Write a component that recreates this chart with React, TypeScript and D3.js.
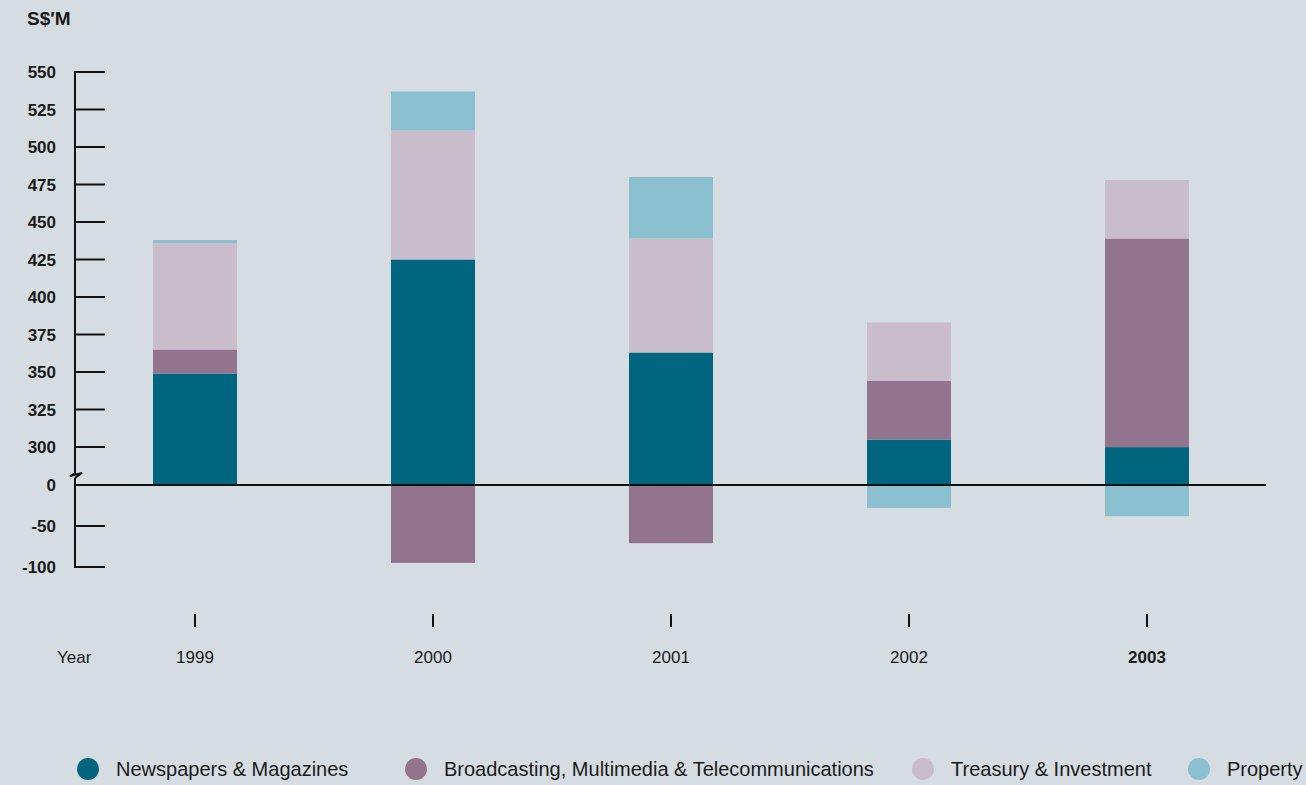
import React, { useRef, useEffect } from "react";
import * as d3 from "d3";

const years = ["1999", "2000", "2001", "2002", "2003"];
const seriesNames = [
  "Newspapers & Magazines",
  "Broadcasting, Multimedia & Telecommunications",
  "Treasury & Investment",
  "Property",
];
const colors = ["#006680", "#93748f", "#c9bdcb", "#8bc0d1"];

// segment values per year (S$'M)
const newspapers = [349, 425, 363, 305, 299];
const broadcasting = [16, -95, -71, 39, 140];
const treasury = [71, 86, 76, 39, 39];
const property = [2, 26, 41, -28, -38];

const tickValues = [-100, -50, 0, 300, 325, 350, 375, 400, 425, 450, 475, 500, 525, 550];

const width = 1306;
const height = 785;

const App = () => {
  const svgRef = useRef<SVGSVGElement>(null);

  useEffect(() => {
    if (!svgRef.current) return;
    const svg = d3.select(svgRef.current);
    svg.selectAll("*").remove();

    // broken axis: 0..300 compressed
    const y = d3.scaleLinear([-100, 0, 300, 550], [567, 485, 447, 72]);
    const x = d3.scaleBand(years, [76, 1266]).paddingInner(0.647).paddingOuter(0.3235);

    const series = [newspapers, broadcasting, treasury, property];

    // stack positives upward from 0, negatives downward from 0
    const rects: { year: string; y0: number; y1: number; color: string }[] = [];
    years.forEach((yr, i) => {
      let pos = 0;
      let neg = 0;
      series.forEach((s, k) => {
        const v = s[i];
        if (v >= 0) {
          rects.push({ year: yr, y0: pos, y1: pos + v, color: colors[k] });
          pos += v;
        } else {
          rects.push({ year: yr, y0: neg + v, y1: neg, color: colors[k] });
          neg += v;
        }
      });
    });

    svg
      .append("g")
      .selectAll("rect")
      .data(rects)
      .join("rect")
      .attr("x", (d) => x(d.year)!)
      .attr("width", x.bandwidth())
      .attr("y", (d) => y(d.y1))
      .attr("height", (d) => y(d.y0) - y(d.y1))
      .attr("fill", (d) => d.color);

    const axisX = 75;
    const ax = svg.append("g").attr("stroke", "#111").attr("stroke-width", 2).attr("fill", "none");
    ax.append("line").attr("x1", axisX).attr("x2", axisX).attr("y1", y(550) - 1).attr("y2", 471);
    ax.append("path").attr("d", `M${axisX},471 L${axisX},473 L${axisX - 5},476 L${axisX + 7},473 L${axisX},478`);
    ax.append("line").attr("x1", axisX).attr("x2", axisX).attr("y1", 478).attr("y2", y(-100) + 1);
    ax.append("line").attr("x1", axisX).attr("x2", 1266).attr("y1", y(0)).attr("y2", y(0));
    ax.selectAll("line.tick")
      .data(tickValues.filter((t) => t !== 0))
      .join("line")
      .attr("class", "tick")
      .attr("x1", axisX)
      .attr("x2", 105)
      .attr("y1", (d) => y(d))
      .attr("y2", (d) => y(d));

    svg
      .append("g")
      .selectAll("text")
      .data(tickValues)
      .join("text")
      .attr("x", 56)
      .attr("y", (d) => y(d) + 6)
      .attr("text-anchor", "end")
      .attr("font-family", "Liberation Sans, Arial, sans-serif")
      .attr("font-weight", "bold")
      .attr("font-size", 17)
      .attr("fill", "#1a1a1a")
      .text((d) => d);

    svg
      .append("text")
      .attr("x", 27)
      .attr("y", 25)
      .attr("font-family", "Liberation Sans, Arial, sans-serif")
      .attr("font-weight", "bold")
      .attr("font-size", 19)
      .attr("fill", "#1a1a1a")
      .text("S$\u2032M");

    // year markers and labels
    const cx = (d: string) => x(d)! + x.bandwidth() / 2;
    svg
      .append("g")
      .selectAll("line")
      .data(years)
      .join("line")
      .attr("x1", cx)
      .attr("x2", cx)
      .attr("y1", 614)
      .attr("y2", 627)
      .attr("stroke", "#111")
      .attr("stroke-width", 2);

    svg
      .append("g")
      .selectAll("text")
      .data(years)
      .join("text")
      .attr("x", cx)
      .attr("y", 663)
      .attr("text-anchor", "middle")
      .attr("font-family", "Liberation Sans, Arial, sans-serif")
      .attr("font-weight", (d) => (d === "2003" ? "bold" : "normal"))
      .attr("font-size", 17)
      .attr("fill", "#1a1a1a")
      .text((d) => d);

    svg
      .append("text")
      .attr("x", 57)
      .attr("y", 663)
      .attr("font-family", "Liberation Sans, Arial, sans-serif")
      .attr("font-size", 17)
      .attr("fill", "#1a1a1a")
      .text("Year");

    // legend
    const legendX = [88, 416, 923, 1199];
    const lg = svg
      .append("g")
      .selectAll("g")
      .data(seriesNames)
      .join("g")
      .attr("transform", (_, i) => `translate(${legendX[i]}, 769)`);
    lg.append("circle").attr("r", 11).attr("fill", (_, i) => colors[i]);
    lg.append("text")
      .attr("x", 28)
      .attr("y", 7)
      .attr("font-family", "Liberation Sans, Arial, sans-serif")
      .attr("font-size", 20)
      .attr("fill", "#1a1a1a")
      .text((d) => d);
  }, []);

  return (
    <svg
      ref={svgRef}
      width={width}
      height={height}
      style={{ position: "absolute", left: 0, top: 0, backgroundColor: "#d5dde2", display: "block" }}
    />
  );
};

export default App;
